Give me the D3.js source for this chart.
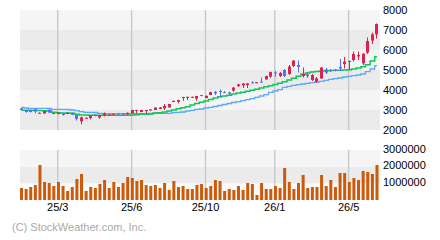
<!DOCTYPE html>
<html>
<head>
<meta charset="utf-8">
<script src="https://cdn.jsdelivr.net/npm/d3@7"></script>
<style>
  body { margin: 0; background: #fff; }
  svg text { font-family: "Liberation Sans", Arial, sans-serif; }
</style>
</head>
<body>
<div id="chart"></div>
<script>
// weekly candles, oldest first
var openP = [3080,3000,3000,3040,2830,2830,3000,2830,2800,2830,2800,2860,2750,2430,2580,2600,2770,2630,2730,2730,
  2760,2830,2830,2780,2830,2950,2900,2950,2980,3000,3050,3080,3130,3400,3410,3600,3610,3610,3570,3750,
  3600,3750,3910,3950,3890,3880,3970,4200,4230,4250,4380,4350,4420,4530,4670,4880,4700,5000,4800,5200,
  5250,4700,4780,4500,4420,4580,5030,4990,5000,5150,5300,5400,5500,5680,5330,5870,6470,6780];
var highP = [3110,3010,3010,3060,2880,2960,3060,2850,2870,2840,2870,2870,2760,2670,2620,2740,2780,2740,2880,2790,
  2820,2840,2840,2870,3010,3010,3010,3010,3040,3130,3140,3300,3310,3470,3510,3660,3670,3670,3710,3760,
  3720,3910,3950,4030,3950,3920,4150,4300,4350,4340,4430,4400,4620,4720,4920,4950,4900,5050,5250,5500,
  5480,5130,4900,4800,4650,5150,5100,5050,5050,5550,5650,5470,5920,5920,5830,6630,6870,7330];
var lowP = [2990,2860,2880,2830,2820,2820,2860,2830,2780,2720,2790,2740,2470,2280,2560,2530,2680,2560,2680,2720,
  2750,2770,2760,2770,2820,2830,2890,2830,2970,2990,3040,3000,3120,3390,3330,3460,3500,3600,3460,3690,
  3590,3740,3750,3640,3850,3740,3900,4150,4100,4100,4330,4340,4400,4520,4600,4650,4650,4650,4750,5150,
  4880,4620,4600,4450,4350,4550,4800,4900,4930,4950,5080,5000,5420,5500,5250,5800,6300,6570];
var closeP = [3000,2900,2900,2930,2860,2950,2870,2845,2860,2750,2860,2770,2550,2630,2610,2730,2700,2730,2830,2780,
  2810,2780,2770,2860,3000,3000,3000,3000,3030,3120,3130,3200,3300,3460,3500,3650,3660,3660,3700,3700,
  3710,3900,3830,3920,3870,3820,4120,4280,4320,4330,4350,4390,4400,4700,4900,4830,4850,4700,5170,5470,
  5150,4800,4700,4750,4580,5120,4870,4950,4970,5080,5420,5450,5800,5750,5820,6450,6780,7300];
var maShort = [2985,2985,2985,2975,2975,2965,2950,2885,2865,2850,2850,2835,2785,2750,2750,2735,2735,2735,2735,2735,
  2735,2735,2735,2735,2750,2765,2785,2785,2800,2850,2865,2900,2950,3000,3065,3115,3165,3250,3325,3385,
  3450,3525,3600,3665,3700,3740,3800,3850,3885,3935,3985,4035,4100,4165,4215,4275,4335,4415,4500,4585,
  4685,4785,4850,4900,4925,4950,4965,4975,4985,4990,5000,5015,5050,5100,5165,5265,5450,5665];
var maLong = [3135,3100,3085,3085,3085,3085,3075,3035,3035,3035,3025,3000,2965,2915,2885,2885,2875,2835,2815,2815,
  2815,2815,2815,2815,2815,2815,2815,2815,2825,2835,2835,2835,2835,2865,2885,2900,2950,2985,3035,3050,
  3100,3135,3175,3225,3275,3325,3375,3415,3465,3515,3565,3635,3700,3765,3885,3950,4015,4135,4185,4235,
  4265,4300,4335,4365,4400,4435,4485,4535,4565,4600,4650,4685,4715,4750,4800,4915,5050,5215];
var volume = [720000,660000,780000,900000,2100000,1080000,1020000,840000,1080000,840000,540000,780000,1260000,1560000,540000,780000,720000,960000,1200000,720000,
  1080000,780000,1020000,1380000,1320000,1140000,1200000,900000,840000,900000,720000,1020000,600000,1140000,780000,840000,660000,660000,900000,960000,
  720000,840000,1200000,1140000,540000,660000,600000,840000,600000,1020000,960000,300000,1020000,660000,660000,840000,720000,1920000,1080000,660000,
  1020000,1500000,720000,780000,780000,1500000,840000,1200000,780000,1620000,1620000,1080000,1320000,1200000,1740000,1680000,1560000,2100000];
var tickWeek = [8,24,40,55,71];
var tickLabels = ["25/3","25/6","25/10","26/1","26/5"];
var priceTicks = [2000,3000,4000,5000,6000,7000,8000];
var volTicks = [1000000,2000000,3000000];

var W = 440, H = 240;
var left = 20, right = 380;
var n = closeP.length;

var svg = d3.select("#chart").append("svg")
    .attr("width", W)
    .attr("height", H);

var x = d3.scaleBand().domain(d3.range(n)).range([left, 378.5]).paddingInner(0.35).paddingOuter(0);
var bw = x.bandwidth();
var cx = function(i){ return x(i) + bw/2; };

var y = d3.scaleLinear().domain([2000, 8000]).range([130, 10]);
var yv = d3.scaleLinear().domain([0, 3000000]).range([200, 150]);

// background bands
var bands = d3.range(2000, 8000, 1000);
svg.selectAll("rect.pband").data(bands).enter().append("rect")
    .attr("x", left).attr("width", right - left)
    .attr("y", function(d){ return y(d + 1000); })
    .attr("height", function(d){ return y(d) - y(d + 1000); })
    .attr("fill", function(d){ return (d / 1000) % 2 == 0 ? "#ebebeb" : "#f5f5f5"; });

var vbands = [0, 1000000, 2000000];
svg.selectAll("rect.vband").data(vbands).enter().append("rect")
    .attr("x", left).attr("width", right - left)
    .attr("y", function(d){ return yv(d + 1000000); })
    .attr("height", function(d){ return yv(d) - yv(d + 1000000); })
    .attr("fill", function(d, i){ return ["#fbfbfb", "#ebebeb", "#f5f5f5"][i]; });

// vertical grid
tickWeek.forEach(function(w){
    var gx = x(w) + 0.8;
    [[10, 130], [150, 200]].forEach(function(r){
        svg.append("line")
            .attr("x1", gx).attr("x2", gx)
            .attr("y1", r[0]).attr("y2", r[1])
            .attr("stroke", "#c8c8c8").attr("stroke-width", 1.4);
    });
});

// moving averages (step)
var maLine = d3.line()
    .x(function(d, i){ return cx(i); })
    .y(function(d){ return y(d); })
    .curve(d3.curveStep);

svg.append("path").datum(maLong)
    .attr("d", maLine).attr("fill", "none")
    .attr("stroke", "#5aa8ff").attr("stroke-width", 1.3);
svg.append("path").datum(maShort)
    .attr("d", maLine).attr("fill", "none")
    .attr("stroke", "#0fc558").attr("stroke-width", 1.5);

// candles
var up = "#dc2350", down = "#5a6cf2";
var candles = svg.selectAll("g.candle").data(d3.range(n)).enter().append("g")
    .attr("class", "candle");

candles.append("line")
    .attr("x1", function(i){ return Math.floor(cx(i)) + 0.5; })
    .attr("x2", function(i){ return Math.floor(cx(i)) + 0.5; })
    .attr("y1", function(i){ return y(highP[i]); })
    .attr("y2", function(i){ return y(lowP[i]); })
    .attr("stroke", function(i){ return closeP[i] >= openP[i] ? up : down; })
    .attr("stroke-width", 1);

candles.append("rect")
    .attr("x", function(i){ return Math.floor(cx(i)) - 1; })
    .attr("width", 3)
    .attr("y", function(i){ return y(Math.max(openP[i], closeP[i])); })
    .attr("height", function(i){ return Math.max(1, Math.abs(y(openP[i]) - y(closeP[i]))); })
    .attr("fill", function(i){ return closeP[i] >= openP[i] ? up : down; });

// volume
svg.selectAll("rect.vol").data(volume).enter().append("rect")
    .attr("class", "vol")
    .attr("x", function(d, i){ return x(i); })
    .attr("width", bw)
    .attr("y", function(d){ return yv(d); })
    .attr("height", function(d){ return yv(0) - yv(d); })
    .attr("fill", "#cc5a0c");

// axes
var yAxis = d3.axisRight(y).tickValues(priceTicks).tickSize(0).tickPadding(3)
    .tickFormat(d3.format("d"));
svg.append("g")
    .attr("transform", "translate(" + right + ",0)")
    .call(yAxis)
    .call(function(g){ g.select(".domain").remove(); })
    .selectAll("text")
    .style("font-size", "11px").attr("fill", "#000");

var vAxis = d3.axisRight(yv).tickValues(volTicks).tickSize(0).tickPadding(3)
    .tickFormat(d3.format("d"));
svg.append("g")
    .attr("transform", "translate(" + right + ",-1.5)")
    .call(vAxis)
    .call(function(g){ g.select(".domain").remove(); })
    .selectAll("text")
    .style("font-size", "11px").attr("fill", "#000");

var xAxis = d3.axisBottom(x).tickValues(tickWeek).tickSize(0).tickPadding(3)
    .tickFormat(function(d){ return tickLabels[tickWeek.indexOf(d)]; });
svg.append("g")
    .attr("transform", "translate(0,200)")
    .call(xAxis)
    .call(function(g){ g.select(".domain").remove(); })
    .selectAll("text")
    .attr("x", -bw/2 + 0.8)
    .style("font-size", "11px").attr("fill", "#000");

svg.append("text")
    .attr("x", 12).attr("y", 231)
    .style("font-size", "11px")
    .attr("fill", "#aaaaaa")
    .text("(C) StockWeather.com, Inc.");
</script>
</body>
</html>
